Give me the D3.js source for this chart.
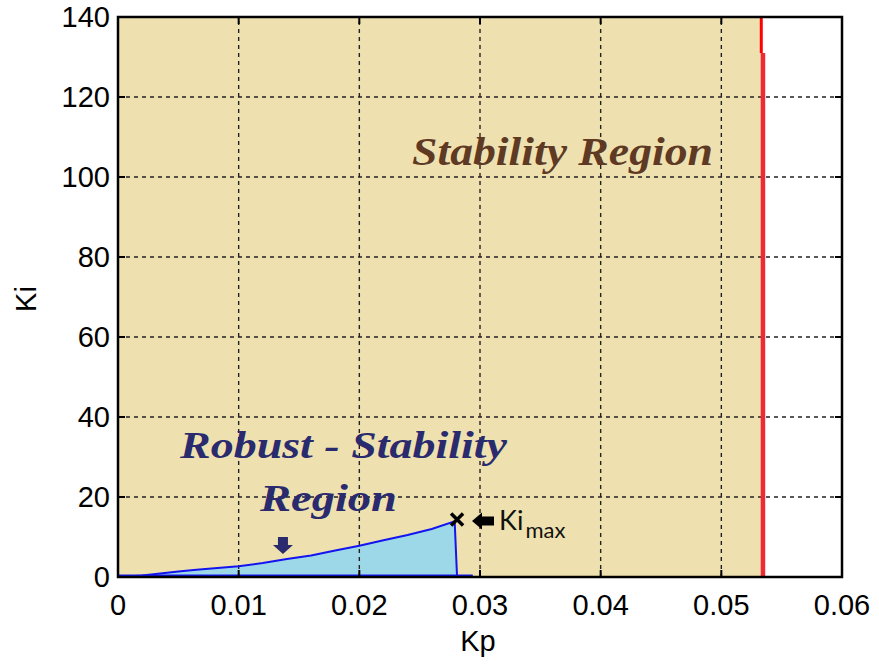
<!DOCTYPE html>
<html>
<head>
<meta charset="utf-8">
<script src="https://cdn.jsdelivr.net/npm/d3@7"></script>
<style>
  html, body { margin: 0; padding: 0; background: #fff; }
  svg { display: block; }
</style>
</head>
<body>
<svg id="chart" width="879" height="664"></svg>
<script>
// ---- data ----
const xTicks = [0, 0.01, 0.02, 0.03, 0.04, 0.05, 0.06];
const xTickLabels = ["0", "0.01", "0.02", "0.03", "0.04", "0.05", "0.06"];
const yTicks = [0, 20, 40, 60, 80, 100, 120, 140];
const yTickLabels = ["0", "20", "40", "60", "80", "100", "120", "140"];

// robust-stability boundary (Kp, Ki)
const robustKp = [0, 0.002, 0.0035, 0.005, 0.0065, 0.008, 0.01, 0.012, 0.014, 0.016, 0.018, 0.02, 0.022, 0.024, 0.026, 0.0279, 0.0281];
const robustKi = [0, 0.4, 0.9, 1.4, 1.8, 2.2, 2.7, 3.5, 4.5, 5.4, 6.6, 7.8, 9.2, 10.5, 12.0, 13.9, 0];
const robustBaseKp = [0, 0.0294];

// stability boundary (red line)
const stabUpperKp = [0.05331, 0.05331];
const stabUpperKi = [140, 131];
const stabLowerKp = [0.05345, 0.05345];
const stabLowerKi = [131, 0];

// Ki max marker
const kiMaxKp = 0.0281;
const kiMaxKi = 14.4;

// ---- layout ----
const svg = d3.select("#chart");
const L = 118, R = 842, T = 17, B = 577;
const x = d3.scaleLinear().domain([0, 0.06]).range([L, R]);
const y = d3.scaleLinear().domain([0, 140]).range([B, T]);

// stability region fill (tan)
const stabPoly = [[0, 0], [0, 140], [stabUpperKp[0], 140]]
  .concat(stabUpperKp.map((k, i) => [k, stabUpperKi[i]]))
  .concat(stabLowerKp.map((k, i) => [k, stabLowerKi[i]]));
svg.append("path")
  .attr("d", d3.line().x(d => x(d[0])).y(d => y(d[1]))(stabPoly) + "Z")
  .attr("fill", "#EEE1AF");

// robust region fill
const robustPts = robustKp.map((k, i) => [k, robustKi[i]]);
svg.append("path")
  .attr("d", d3.line().x(d => x(d[0])).y(d => y(d[1]))(robustPts) + "Z")
  .attr("fill", "#9DD8E9");

// grid
const grid = svg.append("g").attr("stroke", "#222").attr("stroke-width", 1.4).attr("stroke-dasharray", "4,4");
xTicks.slice(1, -1).forEach(t => {
  grid.append("line").attr("x1", x(t)).attr("x2", x(t)).attr("y1", B).attr("y2", T);
});
yTicks.slice(1, -1).forEach(t => {
  grid.append("line").attr("x1", L).attr("x2", R).attr("y1", y(t)).attr("y2", y(t));
});

// robust boundary line
svg.append("path")
  .attr("d", d3.line().x(d => x(d[0])).y(d => y(d[1]))(robustPts))
  .attr("fill", "none").attr("stroke", "#1414F0").attr("stroke-width", 2);
svg.append("line")
  .attr("x1", x(robustBaseKp[0])).attr("x2", x(robustBaseKp[1]))
  .attr("y1", y(0) - 1).attr("y2", y(0) - 1)
  .attr("stroke", "#1414F0").attr("stroke-width", 3);

// red stability boundary
svg.append("path")
  .attr("d", d3.line().x((d, i) => x(d)).y((d, i) => y(stabUpperKi[i]))(stabUpperKp))
  .attr("fill", "none").attr("stroke", "#FF0000").attr("stroke-width", 3);
svg.append("path")
  .attr("d", d3.line().x((d, i) => x(d)).y((d, i) => y(stabLowerKi[i]))(stabLowerKp))
  .attr("fill", "none").attr("stroke", "#EE2A36").attr("stroke-width", 4.5);

// axes box and ticks
const axisG = svg.append("g");
axisG.append("rect").attr("x", L).attr("y", T).attr("width", R - L).attr("height", B - T)
  .attr("fill", "none").attr("stroke", "#000").attr("stroke-width", 2.5);
const tickLen = 7;
xTicks.forEach(t => {
  axisG.append("line").attr("x1", x(t)).attr("x2", x(t)).attr("y1", B).attr("y2", B - tickLen).attr("stroke", "#000").attr("stroke-width", 2);
  axisG.append("line").attr("x1", x(t)).attr("x2", x(t)).attr("y1", T).attr("y2", T + tickLen).attr("stroke", "#000").attr("stroke-width", 2);
});
yTicks.forEach(t => {
  axisG.append("line").attr("x1", L).attr("x2", L + tickLen).attr("y1", y(t)).attr("y2", y(t)).attr("stroke", "#000").attr("stroke-width", 2);
  axisG.append("line").attr("x1", R).attr("x2", R - tickLen).attr("y1", y(t)).attr("y2", y(t)).attr("stroke", "#000").attr("stroke-width", 2);
});

// tick labels
const tickFont = "'Liberation Sans', Arial, sans-serif";
xTicks.forEach((t, i) => {
  svg.append("text").attr("x", x(t)).attr("y", 615)
    .attr("text-anchor", "middle").attr("font-family", tickFont).attr("font-size", 29)
    .attr("fill", "#000").text(xTickLabels[i]);
});
yTicks.forEach((t, i) => {
  svg.append("text").attr("x", 110).attr("y", y(t)).attr("dy", "0.36em")
    .attr("text-anchor", "end").attr("font-family", tickFont).attr("font-size", 29)
    .attr("fill", "#000").text(yTickLabels[i]);
});

// axis titles
svg.append("text").attr("x", 478).attr("y", 651).attr("text-anchor", "middle")
  .attr("font-family", tickFont).attr("font-size", 29).text("Kp");
svg.append("text").attr("transform", "translate(36,299) rotate(-90)").attr("text-anchor", "middle")
  .attr("font-family", tickFont).attr("font-size", 29).text("Ki");

// annotations
const serif = "'Liberation Serif', 'Times New Roman', serif";
svg.append("text").attr("x", 412).attr("y", 165)
  .attr("font-family", serif).attr("font-weight", "bold").attr("font-style", "italic")
  .attr("font-size", 41).attr("fill", "#5E3A24")
  .attr("textLength", 301).attr("lengthAdjust", "spacingAndGlyphs")
  .text("Stability Region");
svg.append("text").attr("x", 180).attr("y", 458)
  .attr("font-family", serif).attr("font-weight", "bold").attr("font-style", "italic")
  .attr("font-size", 37).attr("fill", "#2A2A6E")
  .attr("textLength", 327).attr("lengthAdjust", "spacingAndGlyphs")
  .text("Robust - Stability");
svg.append("text").attr("x", 260).attr("y", 511)
  .attr("font-family", serif).attr("font-weight", "bold").attr("font-style", "italic")
  .attr("font-size", 37).attr("fill", "#2A2A6E")
  .attr("textLength", 137).attr("lengthAdjust", "spacingAndGlyphs")
  .text("Region");

// down arrow (navy)
const dax = x(0.01367), day = 537;
svg.append("path")
  .attr("d", `M${dax - 5},${day} L${dax + 5},${day} L${dax + 5},${day + 8} L${dax + 10},${day + 8} L${dax},${day + 17} L${dax - 10},${day + 8} L${dax - 5},${day + 8} Z`)
  .attr("fill", "#2A2A6E");

// Ki max marker (X)
const mx = x(kiMaxKp), my = y(kiMaxKi);
svg.append("path")
  .attr("d", `M${mx - 6},${my - 6} L${mx + 6},${my + 6} M${mx - 6},${my + 6} L${mx + 6},${my - 6}`)
  .attr("stroke", "#000").attr("stroke-width", 3.5);

// left arrow (black)
const lax = 472, lay = 521;
svg.append("path")
  .attr("d", `M${lax},${lay} L${lax + 10},${lay - 8.5} L${lax + 10},${lay - 4.5} L${lax + 22},${lay - 4.5} L${lax + 22},${lay + 4.5} L${lax + 10},${lay + 4.5} L${lax + 10},${lay + 8.5} Z`)
  .attr("fill", "#000");

// Ki_max label
const kt = svg.append("text").attr("x", 499).attr("y", 530)
  .attr("font-family", "Lato, 'Open Sans', sans-serif").attr("font-size", 27).attr("fill", "#111");
kt.append("tspan").text("Ki");
kt.append("tspan").attr("dy", 8).attr("font-size", 22).attr("dx", 2).text("max");
</script>
</body>
</html>
